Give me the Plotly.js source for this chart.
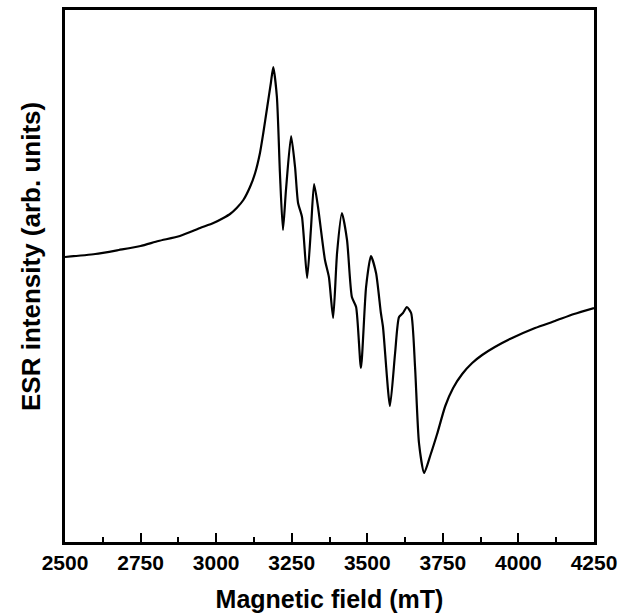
<!DOCTYPE html>
<html>
<head>
<meta charset="utf-8">
<script src="https://cdn.plot.ly/plotly-3.0.1.min.js"></script>
<style>html,body{margin:0;padding:0;background:#fff;}#chart{width:620px;height:614px;}</style>
</head>
<body>
<div id="chart"></div>
<script>
// Magnetic field (mT)
const field = [2500, 2600, 2678, 2750, 2809, 2880, 2947, 2991, 3024, 3046, 3068, 3090, 3112, 3129, 3145,
  3156, 3169, 3181, 3189, 3201, 3211, 3221,
  3231, 3248, 3261, 3271, 3284, 3301, 3314, 3324, 3337, 3360, 3373, 3387, 3400, 3416, 3433, 3449, 3463,
  3479, 3496, 3512, 3529, 3545, 3552, 3575, 3592, 3605, 3618, 3631, 3645, 3658, 3671, 3688, 3709, 3731,
  3758, 3784, 3814, 3847, 3880, 3922, 3972, 4055, 4121, 4184, 4250];
// ESR intensity (arb. units)
const intensity = [285, 288, 292, 296, 301, 306, 314, 319, 324, 328, 334, 342, 355, 369, 389,
  409, 435, 459, 475, 445, 369, 312,
  352, 406, 375, 339, 325, 264, 315, 358, 335, 282, 265, 224, 289, 329, 302, 245, 235,
  174, 255, 286, 269, 229, 215, 136, 189, 225, 229, 235, 229, 175, 99, 69, 87, 108,
  136, 154, 168, 179, 187, 195, 203, 214, 221, 228, 234];
const xTicks = [2500, 2750, 3000, 3250, 3500, 3750, 4000, 4250];

const trace = {
  x: field, y: intensity, type: 'scatter', mode: 'lines',
  line: {color: '#000', width: 2.2, shape: 'spline', smoothing: 0.6},
  hoverinfo: 'x+y'
};
const fontFam = '"Liberation Sans", Arial, sans-serif';
const layout = {
  width: 620, height: 614,
  margin: {l: 65, r: 26, t: 10, b: 72},
  paper_bgcolor: '#fff', plot_bgcolor: '#fff',
  showlegend: false,
  font: {family: fontFam, color: '#000'},
  xaxis: {
    range: [2500, 4250],
    tickvals: xTicks, ticktext: xTicks.map(String),
    ticks: 'inside', ticklen: 9, tickwidth: 2, tickcolor: '#000',
    minor: {dtick: 125, tick0: 2500, ticks: 'inside', ticklen: 5, tickwidth: 2, tickcolor: '#000', showgrid: false},
    showline: true, linewidth: 3, linecolor: '#000', mirror: true,
    showgrid: false, zeroline: false,
    tickfont: {family: fontFam, size: 21, color: '#000', weight: 'bold'},
    title: {text: '<b>Magnetic field (mT)</b>', font: {family: fontFam, size: 25, color: '#000'}, standoff: 18}
  },
  yaxis: {
    range: [0, 532],
    showticklabels: false, ticks: '',
    showline: true, linewidth: 3, linecolor: '#000', mirror: true,
    showgrid: false, zeroline: false,
    title: {text: ''}
  },
  annotations: [{
    text: '<b>ESR intensity (arb. units)</b>',
    xref: 'paper', yref: 'paper', x: -0.0643, y: 0.5376,
    xanchor: 'center', yanchor: 'middle', textangle: -90, showarrow: false,
    font: {family: fontFam, size: 26, color: '#000'}
  }]
};
Plotly.newPlot('chart', [trace], layout, {displayModeBar: false, staticPlot: true});
</script>
</body>
</html>
